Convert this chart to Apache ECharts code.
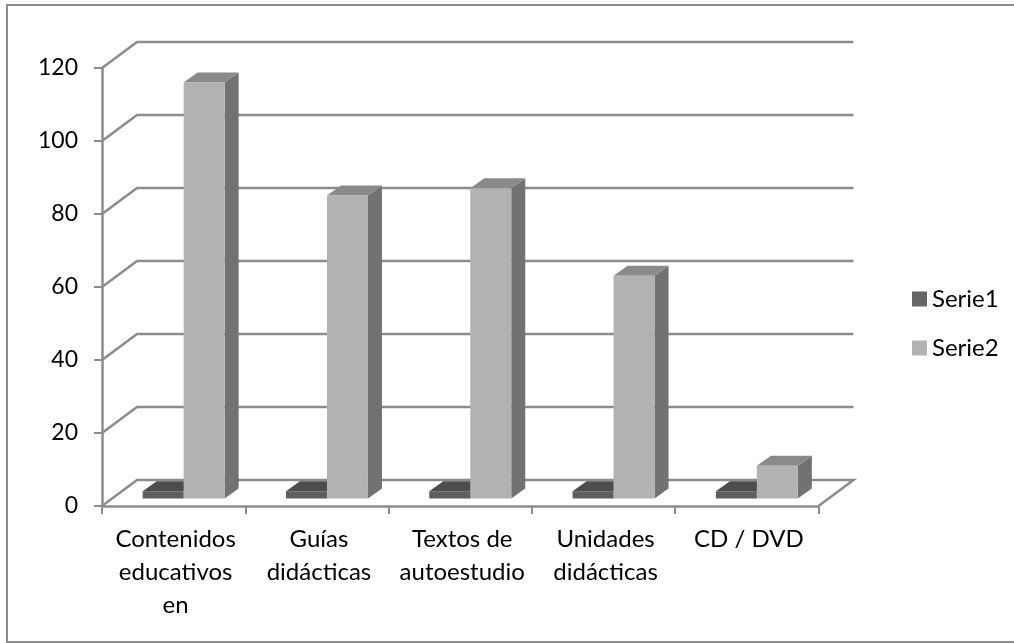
<!DOCTYPE html>
<html>
<head>
<meta charset="utf-8">
<style>
  html, body { margin: 0; padding: 0; background: #fff; }
  #chart { width: 1014px; height: 643px; }
</style>
<script src="https://cdn.jsdelivr.net/npm/echarts@6/dist/echarts.min.js"></script>
</head>
<body>
<div id="chart"></div>
<script>
const categories = ['Contenidos\neducativos\nen', 'Guías\ndidácticas', 'Textos de\nautoestudio', 'Unidades\ndidácticas', 'CD / DVD']
const serie1 = [2, 2, 2, 2, 2]
const serie2 = [114, 83, 85, 61, 9]
const yTicks = [0, 20, 40, 60, 80, 100, 120]

const FONT = 'Lato, "Open Sans", sans-serif'
const LINE = '#8c8c8c'
const WALL_DX = 35
const WALL_DY = -26
// bars stand part way back on the floor
const BAR_DX = 10
const BAR_DY = -7.5
const BAR_W = 41
const DEPTH_DX = 14
const DEPTH_DY = -10

function wallItem(params, api) {
  const grid = params.coordSys
  const value = api.value(0)
  const y = api.coord([0, value])[1]
  const left = grid.x
  const right = grid.x + grid.width
  const points = [[left, y], [left + WALL_DX, y + WALL_DY], [right + WALL_DX, y + WALL_DY]]
  if (value === 0) {
    points.push([right, y])
  }
  return {
    type: 'polyline',
    shape: { points },
    style: { fill: null, stroke: LINE, lineWidth: 2.5 },
  }
}

function barRenderer(shift, front, top, side) {
  return (params, api) => {
    const base = api.coord([api.value(0), 0])
    const peak = api.coord([api.value(0), api.value(1)])
    const x0 = base[0] + BAR_DX + shift
    const x1 = x0 + BAR_W
    const y0 = base[1] + BAR_DY
    const y1 = peak[1] + BAR_DY
    return {
      type: 'group',
      children: [
        {
          type: 'polygon',
          shape: { points: [[x1, y1], [x1 + DEPTH_DX, y1 + DEPTH_DY], [x1 + DEPTH_DX, y0 + DEPTH_DY], [x1, y0]] },
          style: { fill: side },
        },
        {
          type: 'polygon',
          shape: { points: [[x0, y1], [x0 + DEPTH_DX, y1 + DEPTH_DY], [x1 + DEPTH_DX, y1 + DEPTH_DY], [x1, y1]] },
          style: { fill: top },
        },
        {
          type: 'rect',
          shape: { x: x0, y: y1, width: BAR_W, height: y0 - y1 },
          style: { fill: front },
        },
      ],
    }
  }
}

const chart = echarts.init(document.getElementById('chart'))
chart.setOption({
  animation: false,
  graphic: [
    {
      // frame runs off the right edge of the picture
      type: 'rect',
      silent: true,
      shape: { x: 7, y: 5, width: 1020, height: 637 },
      style: { fill: null, stroke: LINE, lineWidth: 2 },
    },
  ],
  grid: { left: 102, right: 195.5, top: 68, bottom: 137 },
  legend: {
    orient: 'vertical',
    left: 912,
    top: 287,
    padding: 0,
    icon: 'rect',
    itemWidth: 15,
    itemHeight: 15,
    itemGap: 25,
    textStyle: { fontFamily: FONT, fontSize: 24, color: '#000' },
    data: ['Serie1', 'Serie2'],
  },
  xAxis: {
    type: 'category',
    data: categories,
    axisLine: { lineStyle: { color: LINE, width: 2.5 } },
    axisTick: { show: true, length: 8, alignWithLabel: false, lineStyle: { color: LINE, width: 2 } },
    axisLabel: { interval: 0, color: '#000', fontFamily: FONT, fontSize: 24, lineHeight: 33, margin: 17, padding: [0, 0, 0, 4] },
    splitLine: { show: false },
  },
  yAxis: {
    type: 'value',
    min: 0,
    max: 120,
    interval: 20,
    axisLine: { show: true, lineStyle: { color: LINE, width: 2.5 } },
    axisTick: { show: true, length: 8, lineStyle: { color: LINE, width: 2 } },
    axisLabel: { color: '#000', fontFamily: FONT, fontSize: 23, margin: 24 },
    splitLine: { show: false },
  },
  series: [
    {
      name: 'walls',
      type: 'custom',
      silent: true,
      z: 1,
      clip: false,
      data: yTicks.map((v) => [v]),
      encode: { y: 0 },
      renderItem: wallItem,
    },
    {
      name: 'Serie1',
      type: 'custom',
      z: 2,
      clip: false,
      itemStyle: { color: '#666666' },
      data: serie1.map((v, i) => [i, v]),
      encode: { x: 0, y: 1 },
      renderItem: barRenderer(-BAR_W, '#5e5e5e', '#4d4d4d', '#474747'),
    },
    {
      name: 'Serie2',
      type: 'custom',
      z: 3,
      clip: false,
      itemStyle: { color: '#b2b2b2' },
      data: serie2.map((v, i) => [i, v]),
      encode: { x: 0, y: 1 },
      renderItem: barRenderer(0, '#b2b2b2', '#8a8a8a', '#727272'),
    },
  ],
})
</script>
</body>
</html>
